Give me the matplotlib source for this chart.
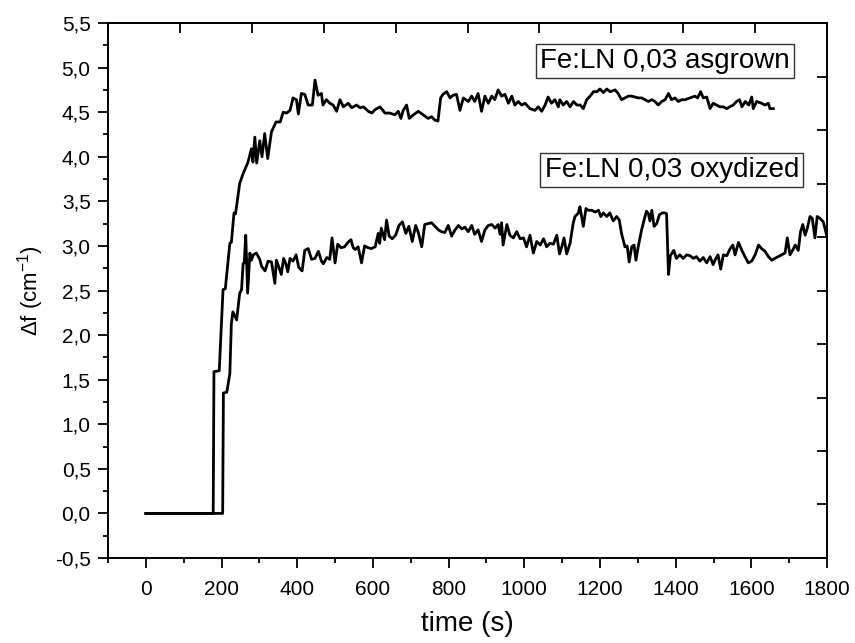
import numpy as np
import matplotlib
matplotlib.use("Agg")
import matplotlib.pyplot as plt
from matplotlib.ticker import FuncFormatter, MultipleLocator

plt.rcParams['font.family'] = ['Liberation Sans', 'DejaVu Sans']
plt.rcParams['mathtext.default'] = 'regular'

# Fe:LN 0,03 asgrown
t_asgrown = [0, 178, 180, 194, 204, 210, 222, 226, 233, 237, 248, 257, 270, 279, 283, 288,
             293, 301, 307, 314, 322, 332, 344, 355, 363, 372, 381, 389, 398, 403, 411, 420,
             429, 440, 447, 455, 464, 468, 477, 486, 495, 504, 513, 522, 535, 544, 557, 566,
             575, 588, 597, 606, 619, 632, 645, 658, 667, 674, 680, 689, 696, 707, 720, 733,
             746, 755, 764, 772, 779, 785, 795, 804, 812, 821, 830, 839, 852, 861, 869, 878,
             887, 896, 905, 914, 922, 931, 940, 949, 958, 967, 975, 984, 993, 1002, 1015, 1028,
             1037, 1046, 1055, 1063, 1072, 1081, 1090, 1094, 1103, 1112, 1121, 1130, 1139, 1148,
             1156, 1165, 1174, 1183, 1192, 1200, 1209, 1218, 1227, 1240, 1248, 1257, 1266, 1275,
             1284, 1292, 1301, 1310, 1319, 1328, 1337, 1345, 1354, 1363, 1372, 1381, 1389, 1398,
             1407, 1416, 1425, 1438, 1451, 1458, 1466, 1473, 1482, 1491, 1499, 1508, 1517, 1526,
             1535, 1543, 1552, 1561, 1569, 1575, 1584, 1593, 1601, 1605, 1614, 1627, 1636, 1645,
             1649, 1658]
df_asgrown = [0.0, 0.0, 1.59, 1.60, 2.51, 2.52, 3.03, 3.04, 3.37, 3.36, 3.70, 3.81, 3.94, 4.09, 3.94, 4.22,
              3.93, 4.18, 4.00, 4.26, 3.98, 4.28, 4.39, 4.39, 4.50, 4.49, 4.52, 4.66, 4.64, 4.48, 4.71, 4.70,
              4.58, 4.58, 4.86, 4.69, 4.71, 4.58, 4.64, 4.60, 4.58, 4.51, 4.64, 4.56, 4.60, 4.55, 4.58, 4.55,
              4.56, 4.51, 4.49, 4.53, 4.56, 4.49, 4.49, 4.47, 4.51, 4.43, 4.52, 4.58, 4.43, 4.47, 4.51, 4.47,
              4.43, 4.45, 4.41, 4.40, 4.66, 4.70, 4.73, 4.66, 4.69, 4.70, 4.52, 4.66, 4.62, 4.68, 4.62, 4.71,
              4.51, 4.68, 4.60, 4.68, 4.64, 4.75, 4.68, 4.70, 4.60, 4.68, 4.58, 4.62, 4.58, 4.60, 4.54, 4.52,
              4.56, 4.51, 4.58, 4.67, 4.60, 4.64, 4.56, 4.64, 4.58, 4.62, 4.56, 4.62, 4.58, 4.58,
              4.54, 4.64, 4.68, 4.73, 4.73, 4.76, 4.72, 4.76, 4.73, 4.75, 4.71, 4.64, 4.66, 4.68,
              4.68, 4.67, 4.66, 4.66, 4.64, 4.62, 4.64, 4.62, 4.58, 4.62, 4.64, 4.71, 4.64, 4.66,
              4.62, 4.64, 4.64, 4.66, 4.68, 4.66, 4.73, 4.66, 4.67, 4.54, 4.60, 4.58, 4.56, 4.56,
              4.54, 4.56, 4.58, 4.62, 4.64, 4.56, 4.62, 4.58, 4.67, 4.54, 4.62, 4.60, 4.58, 4.60,
              4.54, 4.54]

# Fe:LN 0,03 oxydized
t_oxyd = [0, 203, 205, 214, 222, 226, 230, 240, 248, 253, 257, 260, 264, 269, 275, 279,
          284, 292, 301, 306, 315, 323, 332, 341, 345, 350, 358, 364, 370, 375, 381, 389,
          397, 404, 413, 420, 429, 438, 447, 456, 464, 469, 478, 486, 492, 500, 507, 516,
          525, 534, 542, 548, 553, 561, 570, 578, 587, 596, 606, 614, 618, 622, 631, 636,
          643, 651, 660, 669, 678, 687, 695, 704, 713, 720, 729, 737, 746, 755, 764, 773,
          781, 790, 799, 808, 817, 826, 835, 843, 852, 861, 869, 878, 887, 896, 905, 914,
          923, 931, 936, 940, 944, 954, 962, 971, 980, 989, 998, 1006, 1015, 1024, 1033, 1042,
          1051, 1059, 1068, 1077, 1086, 1093, 1099, 1105, 1112, 1121, 1129, 1134, 1143, 1147,
          1156, 1163, 1169, 1178, 1187, 1196, 1202, 1209, 1218, 1226, 1235, 1244, 1251, 1257,
          1266, 1272, 1277, 1284, 1290, 1295, 1301, 1310, 1319, 1323, 1328, 1332, 1337, 1343,
          1350, 1357, 1365, 1372, 1376, 1381, 1386, 1395, 1402, 1411, 1420, 1429, 1438, 1447,
          1455, 1464, 1473, 1482, 1491, 1499, 1505, 1512, 1519, 1526, 1535, 1544, 1551, 1557,
          1566, 1575, 1583, 1592, 1601, 1610, 1619, 1627, 1636, 1645, 1654, 1662, 1671, 1680,
          1689, 1695, 1702, 1709, 1716, 1724, 1730, 1736, 1742, 1748, 1755, 1761, 1768, 1774,
          1781, 1790, 1799]
df_oxyd = [0.0, 0.0, 1.35, 1.36, 1.57, 2.13, 2.26, 2.17, 2.47, 2.51, 2.80, 2.81, 3.12, 2.47, 2.92, 2.84,
           2.90, 2.92, 2.85, 2.77, 2.72, 2.83, 2.82, 2.58, 2.84, 2.78, 2.68, 2.86, 2.80, 2.71, 2.86, 2.83,
           2.90, 2.76, 2.72, 2.95, 2.97, 2.85, 2.86, 2.94, 2.83, 2.80, 2.87, 2.85, 3.09, 2.81, 3.02, 2.98,
           2.99, 3.04, 3.07, 2.98, 2.96, 2.99, 2.81, 3.00, 2.98, 2.97, 2.99, 3.14, 3.03, 3.20, 3.07, 3.29,
           3.11, 3.08, 3.12, 3.23, 3.27, 3.14, 3.22, 3.05, 3.23, 3.15, 2.99, 3.24, 3.25, 3.26, 3.22, 3.18,
           3.16, 3.15, 3.23, 3.11, 3.18, 3.23, 3.19, 3.21, 3.16, 3.23, 3.13, 3.18, 3.05, 3.18, 3.23, 3.24,
           3.20, 3.24, 3.13, 3.26, 3.01, 3.24, 3.12, 3.09, 3.16, 3.08, 3.09, 2.99, 3.12, 2.92, 3.05, 3.01,
           3.08, 2.99, 3.03, 3.02, 3.12, 2.91, 2.99, 3.09, 2.91, 3.03, 3.25, 3.33, 3.37, 3.44,
           3.22, 3.42, 3.40, 3.40, 3.38, 3.40, 3.33, 3.37, 3.33, 3.37, 3.28, 3.33, 3.29, 3.14,
           2.99, 3.00, 2.82, 2.99, 3.01, 2.84, 2.99, 3.18, 3.33, 3.39, 3.36, 3.28, 3.40, 3.22,
           3.25, 3.35, 3.37, 3.37, 3.36, 2.68, 2.89, 2.95, 2.86, 2.90, 2.86, 2.90, 2.89, 2.86,
           2.88, 2.83, 2.87, 2.81, 2.88, 2.79, 2.85, 2.90, 2.74, 2.90, 2.89, 2.97, 3.01, 2.90,
           3.04, 2.95, 2.88, 2.81, 2.83, 2.90, 3.01, 2.97, 2.94, 2.88, 2.84, 2.86, 2.88, 2.90,
           2.92, 3.09, 2.90, 2.95, 3.01, 2.95, 3.16, 3.24, 3.12, 3.20, 3.33, 3.31, 3.09, 3.33,
           3.31, 3.27, 3.12]

label_asgrown = "Fe:LN 0,03 asgrown"
label_oxyd = "Fe:LN 0,03 oxydized"

fig = plt.figure(figsize=(8.55, 6.43), dpi=100)
ax = fig.add_axes([0.1263, 0.1322, 0.8410, 0.8320])

ax.plot(t_asgrown, df_asgrown, color='black', lw=2.0)
ax.plot(t_oxyd, df_oxyd, color='black', lw=2.0)

ax.set_xlim(-100, 1800)
ax.set_ylim(-0.5, 5.5)

ax.xaxis.set_major_locator(MultipleLocator(200))
ax.xaxis.set_minor_locator(MultipleLocator(100))
ax.yaxis.set_major_locator(MultipleLocator(0.5))
ax.yaxis.set_minor_locator(MultipleLocator(0.25))
ax.yaxis.set_major_formatter(FuncFormatter(lambda v, p: f"{v:.1f}".replace('.', ',')))

ax.tick_params(which='major', direction='out', length=7.5, width=1.3, labelsize=15,
               top=False, right=False)
ax.tick_params(axis='x', which='major', pad=8)
ax.tick_params(axis='y', which='major', pad=5)
ax.tick_params(which='minor', direction='out', length=3.8, width=1.3, top=False, right=False)
for s in ax.spines.values():
    s.set_linewidth(1.4)

# top and right axes carry their own inward ticks, no labels
top = ax.secondary_xaxis('top')
top.set_xticks(np.linspace(-100, 1800, 11))
top.tick_params(direction='in', length=7, width=1.3, labeltop=False)
right = ax.secondary_yaxis('right')
right.set_yticks(np.linspace(-0.5, 5.5, 11))
right.tick_params(direction='in', length=7, width=1.3, labelright=False)
for sec in (top, right):
    for s in sec.spines.values():
        s.set_linewidth(1.4)

ax.set_xlabel("time (s)", fontsize=20, labelpad=9)
ax.set_ylabel("\u0394f (cm$^{-1}$)", fontsize=16, labelpad=6)

box = dict(boxstyle='square,pad=0.15', facecolor='white', edgecolor='#333333', linewidth=1.0)
ax.text(0.775, 0.929, label_asgrown, transform=ax.transAxes, ha='center', va='center',
        fontsize=20, bbox=box)
ax.text(0.784, 0.7256, label_oxyd, transform=ax.transAxes, ha='center', va='center',
        fontsize=20, bbox=box)

fig.savefig("out.png", dpi=100)
